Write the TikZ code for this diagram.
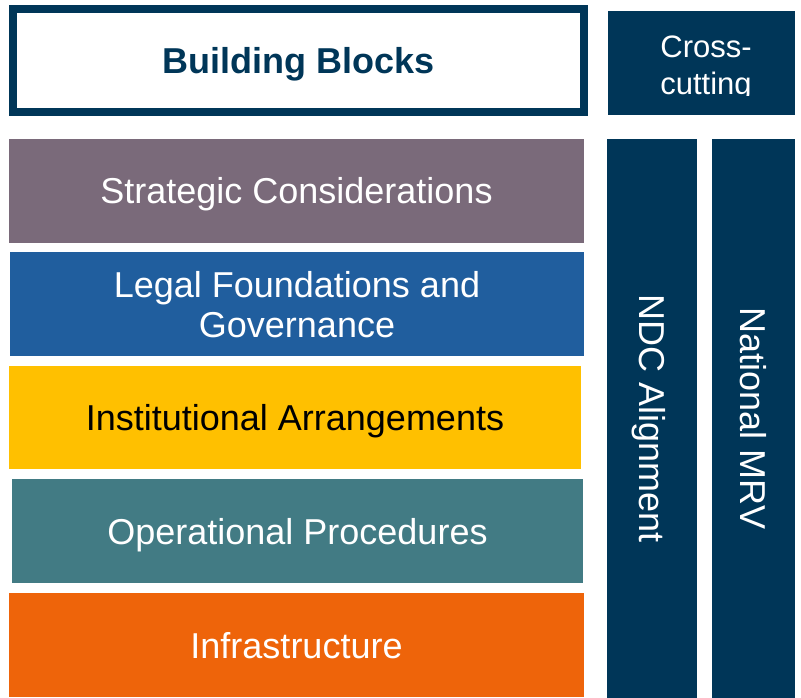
\documentclass[tikz,border=0pt]{standalone}
\usepackage{fontspec}
\setmainfont{Liberation Sans}
\usepackage{xcolor}
\usetikzlibrary{positioning}

\definecolor{navy}{HTML}{003658}
\definecolor{strategic}{HTML}{7A6A7A}
\definecolor{legal}{HTML}{205E9E}
\definecolor{institutional}{HTML}{FFC000}
\definecolor{operational}{HTML}{427B84}
\definecolor{infra}{HTML}{EE640A}

\begin{document}
\begin{tikzpicture}[x=1pt,y=-1pt,
    block/.style={inner sep=0pt, minimum height=104pt, text=white, align=center,
      text height=26pt, text depth=0pt, font=\fontsize{36}{40}\selectfont},
    column/.style={fill=navy, inner sep=0pt, rotate=-90, minimum width=559pt, text=white,
      text height=26pt, text depth=0pt, font=\fontsize{36}{40}\selectfont}]
      \useasboundingbox (0,0) rectangle (801,698);

      \node[draw=navy, line width=8pt, inner sep=0pt, minimum width=571pt, minimum height=103pt,
        text=navy, text height=26pt, text depth=0pt,
        font=\fontsize{36}{40}\selectfont\bfseries] at (298.5,61) (blocks) {Building Blocks};
      \node[fill=navy, inner sep=0pt, minimum width=187pt, minimum height=104pt] at (701.5,63) (cross) {};
      \begin{scope}
        \clip (608,11) rectangle (795,96);
        \node[text=white, align=center, text height=59pt, text depth=0pt,
          font=\fontsize{31}{37}\selectfont] at (706,65.5) (crosstext) {Cross-\\cutting};
      \end{scope}

      \node[block, fill=strategic, minimum width=575pt] at (296.5,191) (strategic) {Strategic Considerations};
      \node[block, fill=legal, minimum width=574pt, text height=66pt] at (297,304) (legal) {Legal Foundations and\\Governance};
      \node[block, fill=institutional, minimum width=572pt, minimum height=103pt, text=black] at (295,417.5) (institutional) {Institutional Arrangements};
      \node[block, fill=operational, minimum width=571pt] at (297.5,531) (operational) {Operational Procedures};
      \node[block, fill=infra, minimum width=575pt] at (296.5,645) (infrastructure) {Infrastructure};

      \node[column, minimum height=90pt] at (652,418.5) (ndc) {NDC Alignment};
      \node[column, minimum height=83pt] at (753.5,418.5) (mrv) {National MRV};
    \end{tikzpicture}
\end{document}
